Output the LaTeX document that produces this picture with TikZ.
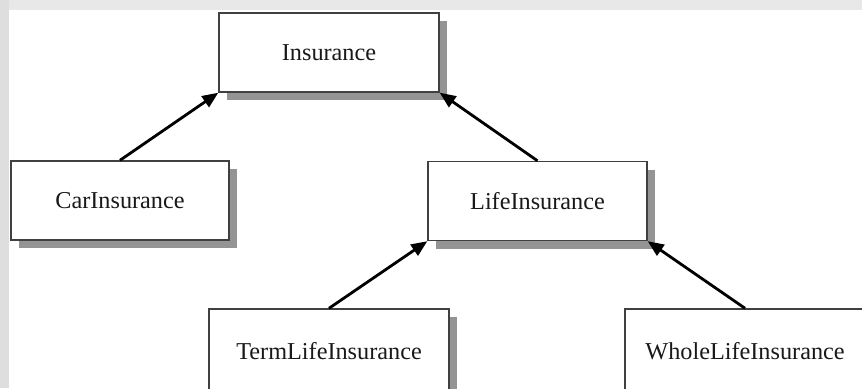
\documentclass[tikz,border=0pt]{standalone}
\usepackage{fontspec}
\setmainfont{Liberation Serif}
\usetikzlibrary{arrows.meta,shadows}

\tikzset{
  klasse/.style={draw=black!75,line width=0.8pt,fill=white,text=black!90,
    minimum height=1.58cm,inner sep=0pt,
    font=\fontsize{13.8}{16}\selectfont,
    drop shadow={shadow xshift=0.16cm,shadow yshift=-0.16cm,fill=black!42,opacity=1}},
  erbt/.style={line width=1.6pt,-{Triangle[length=0.32cm,width=0.26cm]}}
}

\begin{document}
\begin{tikzpicture}
\clip(0,0)rectangle(17.24,7.76);
%背景
\fill[white](0,0)rectangle(17.24,7.76);
\fill[black!9](0,7.56)rectangle(17.24,7.76); %上の帯
\fill[black!13](0,0)rectangle(0.18,7.76); %左の帯

%クラス
\node[klasse,minimum width=4.4cm](insurance)at(6.58,6.71){Insurance};
\node[klasse,minimum width=4.36cm](car)at(2.40,3.75){CarInsurance};
\node[klasse,minimum width=4.38cm](life)at(10.75,3.74){LifeInsurance};
\node[klasse,minimum width=4.8cm,minimum height=1.68cm](term)at(6.58,0.74){TermLifeInsurance};
\node[klasse,minimum width=4.8cm,minimum height=1.68cm](whole)at(14.9,0.74){WholeLifeInsurance};

%継承の矢印
\draw[erbt](car.north)--(insurance.south west);
\draw[erbt](life.north)--(insurance.south east);
\draw[erbt](term.north)--(life.south west);
\draw[erbt](whole.north)--(life.south east);
\end{tikzpicture}
\end{document}
